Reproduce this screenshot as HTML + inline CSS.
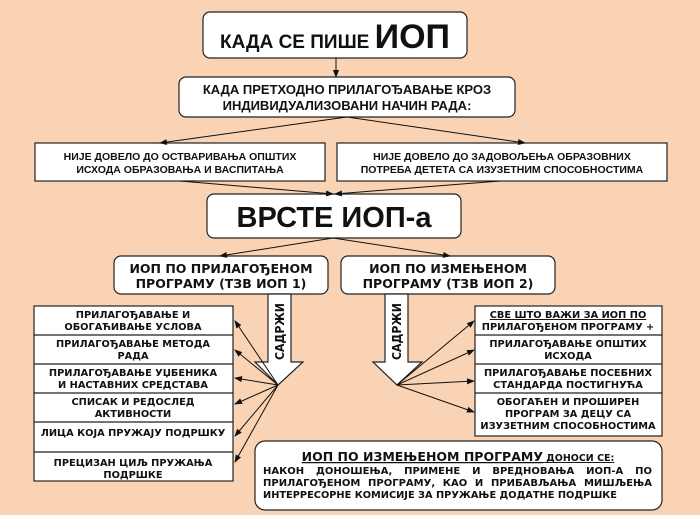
<!DOCTYPE html>
<html><head><meta charset="utf-8"><style>
html,body{margin:0;padding:0;background:#f9d3b3;}
svg{display:block;font-family:"Liberation Sans",sans-serif;font-weight:bold;}
.d{font-family:"DejaVu Sans","Liberation Sans",sans-serif;}
</style></head><body>
<svg width="700" height="515" viewBox="0 0 700 515" xmlns="http://www.w3.org/2000/svg">
<defs>
<marker id="a" markerWidth="8" markerHeight="6" refX="7" refY="3" orient="auto" markerUnits="userSpaceOnUse"><path d="M0,0 L8,3 L0,6 z" fill="#111"/></marker>
</defs>
<rect width="700" height="515" fill="#f9d3b3"/>
<g stroke="#222" stroke-width="1.2" fill="#fff">
<rect x="203" y="12" width="264" height="46" rx="7"/>
<rect x="179" y="77" width="336" height="40" rx="7"/>
<rect x="35" y="143" width="290" height="38"/>
<rect x="337" y="143" width="330" height="38"/>
<rect x="207" y="194" width="254" height="44" rx="7"/>
<rect x="114" y="256" width="214" height="38" rx="7"/>
<rect x="341" y="256" width="214" height="38" rx="7"/>
<rect x="34" y="306" width="199" height="175"/>
<line x1="34" y1="335" x2="233" y2="335"/><line x1="34" y1="364" x2="233" y2="364"/><line x1="34" y1="393" x2="233" y2="393"/><line x1="34" y1="422" x2="233" y2="422"/><line x1="34" y1="452" x2="233" y2="452"/>
<rect x="475" y="306" width="187" height="130"/>
<line x1="475" y1="335" x2="662" y2="335"/><line x1="475" y1="364" x2="662" y2="364"/><line x1="475" y1="393" x2="662" y2="393"/>
<rect x="255" y="441" width="407" height="69" rx="10"/>
<path d="M268,294 L291,294 L291,362 L303,362 L278,385 L255,362 L268,362 z"/>
<path d="M385,294 L408,294 L408,362 L422,362 L397,385 L373,362 L385,362 z"/>
</g>
<g stroke="#111" stroke-width="1" marker-end="url(#a)">
<line x1="336" y1="58" x2="336" y2="77"/>
<line x1="347" y1="117" x2="160" y2="143"/>
<line x1="347" y1="117" x2="525" y2="143"/>
<line x1="180" y1="181" x2="333" y2="194"/>
<line x1="500" y1="181" x2="335" y2="194"/>
<line x1="333" y1="238" x2="220" y2="256"/>
<line x1="333" y1="238" x2="450" y2="256"/>
<line x1="278" y1="385" x2="235" y2="321"/>
<line x1="278" y1="385" x2="235" y2="350"/>
<line x1="278" y1="385" x2="235" y2="378"/>
<line x1="278" y1="385" x2="235" y2="404"/>
<line x1="278" y1="385" x2="235" y2="436"/>
<line x1="278" y1="385" x2="235" y2="462"/>
<line x1="397" y1="385" x2="474" y2="321"/>
<line x1="397" y1="385" x2="474" y2="350"/>
<line x1="397" y1="385" x2="474" y2="381"/>
<line x1="397" y1="385" x2="474" y2="412"/>
</g>
<g fill="#111" text-anchor="middle">
<text x="335" y="48"><tspan font-size="19">КАДА СЕ ПИШЕ </tspan><tspan font-size="34">ИОП</tspan></text>
<text x="347" y="94" font-size="13">КАДА ПРЕТХОДНО ПРИЛАГОЂАВАЊЕ КРОЗ</text>
<text x="347" y="110" font-size="13">ИНДИВИДУАЛИЗОВАНИ НАЧИН РАДА:</text>
<text x="180" y="160" font-size="10.5">НИЈЕ ДОВЕЛО ДО ОСТВАРИВАЊА ОПШТИХ</text>
<text x="180" y="173" font-size="10.5">ИСХОДА ОБРАЗОВАЊА И ВАСПИТАЊА</text>
<text x="502" y="160" font-size="10.5">НИЈЕ ДОВЕЛО ДО ЗАДОВОЉЕЊА ОБРАЗОВНИХ</text>
<text x="502" y="173" font-size="10.5">ПОТРЕБА ДЕТЕТА СА ИЗУЗЕТНИМ СПОСОБНОСТИМА</text>
<text x="334" y="227" font-size="29">ВРСТЕ ИОП-а</text>
<g class="d" font-size="12.5">
<text x="221" y="273">ИОП ПО ПРИЛАГОЂЕНОМ</text>
<text x="221" y="288">ПРОГРАМУ (ТЗВ ИОП 1)</text>
<text x="448" y="273">ИОП ПО ИЗМЕЊЕНОМ</text>
<text x="448" y="288">ПРОГРАМУ (ТЗВ ИОП 2)</text>
</g>
<g class="d" font-size="9.8">
<text x="133" y="318">ПРИЛАГОЂАВАЊЕ И</text><text x="133" y="330">ОБОГАЋИВАЊЕ УСЛОВА</text>
<text x="133" y="347">ПРИЛАГОЂАВАЊЕ МЕТОДА</text><text x="133" y="359">РАДА</text>
<text x="133" y="376">ПРИЛАГОЂАВАЊЕ УЏБЕНИКА</text><text x="133" y="388">И НАСТАВНИХ СРЕДСТАВА</text>
<text x="133" y="405">СПИСАК И РЕДОСЛЕД</text><text x="133" y="417">АКТИВНОСТИ</text>
<text x="133" y="436">ЛИЦА КОЈА ПРУЖАЈУ ПОДРШКУ</text>
<text x="133" y="466">ПРЕЦИЗАН ЦИЉ ПРУЖАЊА</text><text x="133" y="478">ПОДРШКЕ</text>
<text x="568" y="318" text-decoration="underline">СВЕ ШТО ВАЖИ ЗА ИОП ПО</text><text x="568" y="330">ПРИЛАГОЂЕНОМ ПРОГРАМУ +</text>
<text x="568" y="347">ПРИЛАГОЂАВАЊЕ ОПШТИХ</text><text x="568" y="359">ИСХОДА</text>
<text x="568" y="376">ПРИЛАГОЂАВАЊЕ ПОСЕБНИХ</text><text x="568" y="388">СТАНДАРДА ПОСТИГНУЋА</text>
<text x="568" y="405">ОБОГАЋЕН И ПРОШИРЕН</text><text x="568" y="417">ПРОГРАМ ЗА ДЕЦУ СА</text><text x="568" y="429">ИЗУЗЕТНИМ СПОСОБНОСТИМА</text>
</g>
<text class="d" x="458" y="461"><tspan font-size="12.5" text-decoration="underline">ИОП ПО ИЗМЕЊЕНОМ ПРОГРАМУ</tspan><tspan font-size="9.5" text-decoration="underline"> ДОНОСИ СЕ:</tspan></text>
</g>
<g class="d" fill="#111" font-size="9.5">
<text x="263" y="474" textLength="389" lengthAdjust="spacingAndGlyphs" word-spacing="8">НАКОН ДОНОШЕЊА, ПРИМЕНЕ И ВРЕДНОВАЊА ИОП-А ПО</text>
<text x="263" y="486" textLength="389" lengthAdjust="spacingAndGlyphs" word-spacing="4">ПРИЛАГОЂЕНОМ ПРОГРАМУ, КАО И ПРИБАВЉАЊА МИШЉЕЊА</text>
<text x="263" y="498" textLength="354" lengthAdjust="spacingAndGlyphs">ИНТЕРРЕСОРНЕ КОМИСИЈЕ ЗА ПРУЖАЊЕ ДОДАТНЕ ПОДРШКЕ</text>
<text transform="translate(284,360) rotate(-90)" font-size="12" textLength="57" lengthAdjust="spacingAndGlyphs">САДРЖИ</text>
<text transform="translate(401,360) rotate(-90)" font-size="12" textLength="57" lengthAdjust="spacingAndGlyphs">САДРЖИ</text>
</g>
</svg>
</body></html>
